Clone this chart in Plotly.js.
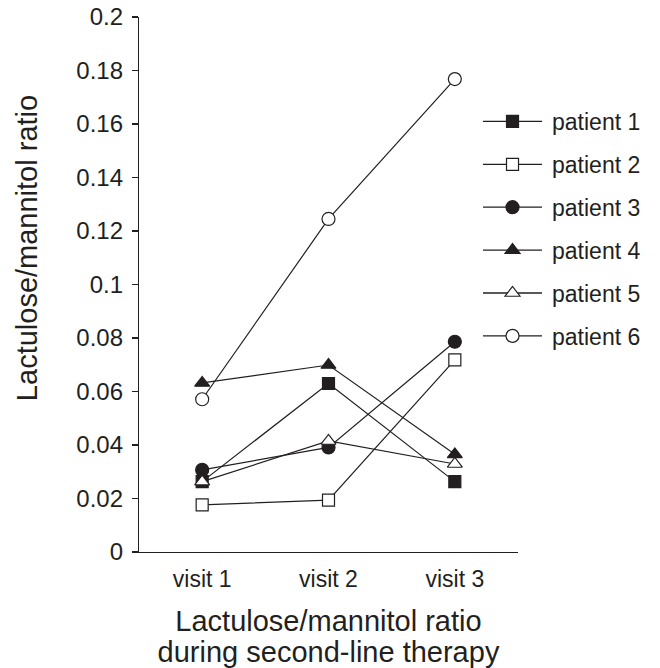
<!DOCTYPE html>
<html>
<head>
<meta charset="utf-8">
<script src="https://cdn.plot.ly/plotly-3.0.1.min.js"></script>
<style>html,body{margin:0;padding:0;background:#fff;}#chart{width:660px;height:668px;}</style>
</head>
<body>
<div id="chart"></div>
<script>
const visits = ["visit 1", "visit 2", "visit 3"];
const patientNames = ["patient 1", "patient 2", "patient 3", "patient 4", "patient 5", "patient 6"];
const patient1 = [0.0263, 0.063, 0.0263];
const patient2 = [0.0176, 0.0194, 0.0718];
const patient3 = [0.0307, 0.0391, 0.0786];
const patient4 = [0.0632, 0.0699, 0.0365];
const patient5 = [0.0263, 0.0415, 0.0329];
const patient6 = [0.0571, 0.1245, 0.1768];
const yTickVals = [0, 0.02, 0.04, 0.06, 0.08, 0.1, 0.12, 0.14, 0.16, 0.18, 0.2];
const yTickText = ["0", "0.02", "0.04", "0.06", "0.08", "0.1", "0.12", "0.14", "0.16", "0.18", "0.2"];

const ink = "#231f20";
const series = [patient1, patient2, patient3, patient4, patient5, patient6];
const symbols = ["square", "square-open", "circle", "triangle-up", "triangle-up-open", "circle-open"];
const sizes = [12, 12, 13, 13, 13, 13];

const traces = series.map((vals, i) => ({
  x: visits,
  y: vals,
  name: patientNames[i],
  legendgroup: "g" + i,
  type: "scatter",
  mode: "lines+markers",
  line: {color: ink, width: 1.2},
  marker: {
    symbol: symbols[i].replace("-open", ""),
    size: sizes[i],
    color: symbols[i].indexOf("open") >= 0 ? "#ffffff" : ink,
    line: {color: ink, width: 1.2}
  },
  cliponaxis: false
}));

const font = "Liberation Sans, Arial, Helvetica, sans-serif";
const layout = {
  width: 660,
  height: 668,
  margin: {l: 139, r: 142, t: 17, b: 116},
  paper_bgcolor: "#ffffff",
  plot_bgcolor: "#ffffff",
  font: {family: font, color: ink, size: 23},
  showlegend: true,
  legend: {
    x: 0.8945, xanchor: "left",
    y: 0.845, yanchor: "top",
    tracegroupgap: 10,
    itemwidth: 64,
    font: {family: font, size: 23, color: ink},
    bgcolor: "rgba(0,0,0,0)"
  },
  xaxis: {
    type: "category",
    range: [-0.5, 2.5],
    showline: true, linecolor: ink, linewidth: 1.2,
    showgrid: false, zeroline: false,
    ticks: "", ticklabelstandoff: 6,
    tickfont: {family: font, size: 23, color: ink},
    title: {
      text: "<span style=\"font-size:29px\">Lactulose/mannitol ratio</span><br><span style=\"font-size:29px\">during second-line therapy</span>",
      font: {family: font, size: 24, color: ink},
      standoff: 26
    }
  },
  yaxis: {
    range: [0, 0.2],
    tickvals: yTickVals,
    ticktext: yTickText,
    showline: true, linecolor: ink, linewidth: 1.2,
    showgrid: false, zeroline: false,
    ticks: "outside", ticklen: 6, tickcolor: ink, tickwidth: 1.2,
    tickfont: {family: font, size: 24, color: ink},
    ticklabelstandoff: 4
  },
  annotations: [{
    text: "Lactulose/mannitol ratio",
    xref: "paper", yref: "paper",
    x: -0.2955, y: 0.568,
    xanchor: "center", yanchor: "middle",
    textangle: -90, showarrow: false,
    font: {family: font, size: 29, color: ink}
  }]
};

Plotly.newPlot("chart", traces, layout, {displayModeBar: false, staticPlot: true}).then(gd => {
  // stretch the legend sample lines so the marker sits in the middle of a longer line
  gd.querySelectorAll(".legend .traces").forEach(g => {
    g.querySelectorAll(".legendlines path").forEach(p => {
      p.setAttribute("d", "M5,0h59");
      p.style.strokeWidth = "1.3px";
      p.style.stroke = ink;
    });
    g.querySelectorAll(".legendpoints path").forEach(p => p.setAttribute("transform", "translate(34.5,0)"));
  });
});
</script>
</body>
</html>
